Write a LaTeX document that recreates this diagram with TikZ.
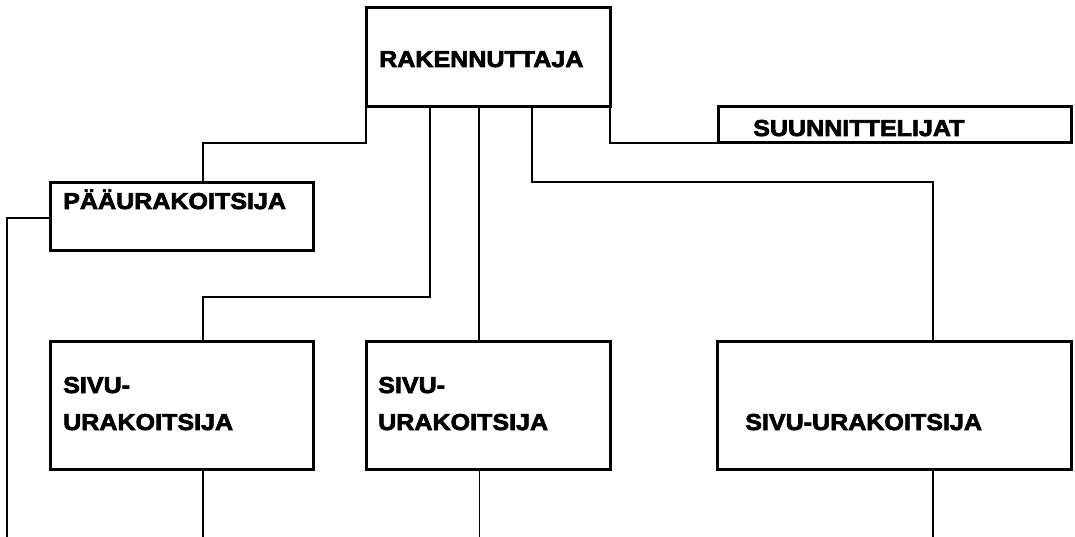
\documentclass[tikz,border=0pt]{standalone}
\usepackage{fontspec}
\usetikzlibrary{calc}
\newfontfamily\labfont{Liberation Sans}[FakeStretch=1.09, FakeBold=3]
\begin{document}
\begin{tikzpicture}[x=1pt, y=-1pt,
  box/.style={draw, line width=3pt, rectangle, inner sep=0pt, outer sep=0pt, anchor=north west},
  lbl/.style={anchor=base west, inner sep=0pt, font=\labfont\bfseries\fontsize{23}{27}\selectfont},
  conn/.style={draw, line width=1.6pt},
  thin conn/.style={draw, line width=1pt}]
\useasboundingbox[fill=white] (0,0) rectangle (1075,537);

% boxes
\node[box, minimum width=244pt, minimum height=99pt]  (rak) at (366,8)   {};
\node[box, minimum width=353pt, minimum height=36pt]  (suu) at (718,107) {};
\node[box, minimum width=263pt, minimum height=67pt]  (pau) at (50,183)  {};
\node[box, minimum width=263pt, minimum height=128pt] (s1)  at (50,341)  {};
\node[box, minimum width=244pt, minimum height=128pt] (s2)  at (366,341) {};
\node[box, minimum width=354pt, minimum height=128pt] (s3)  at (717,341) {};

% labels
\node[lbl] (trak) at (379,67)  {RAKENNUTTAJA};
\node[lbl] (tsuu) at (753,136) {SUUNNITTELIJAT};
\node[lbl] (tpau) at (63,209)  {PÄÄURAKOITSIJA};
\node[lbl] (ts1a) at (63,393)  {SIVU-};
\node[lbl] (ts1b) at (63,430)  {URAKOITSIJA};
\node[lbl] (ts2a) at (378,393) {SIVU-};
\node[lbl] (ts2b) at (378,430) {URAKOITSIJA};
\node[lbl] (ts3)  at (745,430) {SIVU-URAKOITSIJA};

% free ends at the lower edge
\coordinate (endL) at (7,537);

% connectors
\draw[conn] (rak.south west) -- ++(0,36) -| ($(pau.north west)+(153,0)$);
\draw[conn] ($(rak.south west)+(64,0)$) -- ++(0,190) -| ($(s1.north west)+(153,0)$);
\draw[conn] ($(rak.south west)+(113,0)$) -- ($(s2.north west)+(113,0)$);
\draw[conn] ($(rak.south west)+(166,0)$) -- ++(0,75) -| ($(s3.north west)+(216,0)$);
\draw[conn] (rak.south east) |- (suu.south west);
\draw[conn] ($(pau.north west)+(0,35)$) -| (endL);
\draw[conn] ($(s1.south west)+(153,0)$) -- ++(0,68);
\draw[thin conn] ($(s2.south west)+(113,0)$) -- ++(0,68);
\draw[conn] ($(s3.south west)+(216,0)$) -- ++(0,68);
\end{tikzpicture}
\end{document}
